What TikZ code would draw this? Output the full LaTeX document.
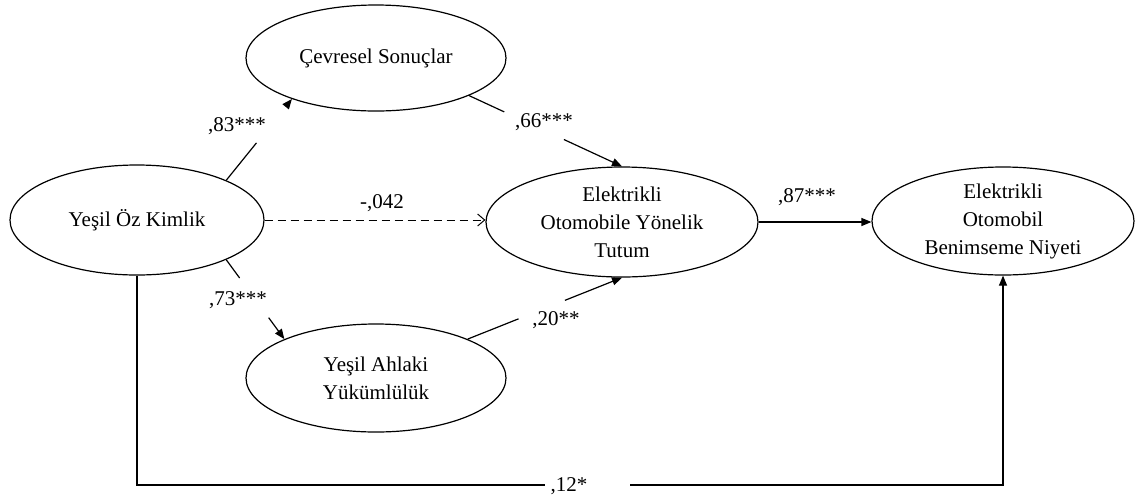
\documentclass[tikz,border=0pt]{standalone}
\usepackage{fontspec}
\setmainfont{Liberation Serif}
\usetikzlibrary{arrows.meta,calc,shapes.geometric}
\begin{document}
\begin{tikzpicture}[x=0.5pt,y=-0.5pt,
  every node/.style={font=\fontsize{10.5}{14}\selectfont},
  lat/.style={draw, ellipse, inner sep=0pt, align=center, line width=0.6pt},
  conn/.style={line width=0.6pt},
  arr/.style={conn, -{Triangle[length=5pt,width=4pt]}},
  dasharr/.style={line width=0.5pt, dash pattern=on 4pt off 2.5pt, -{Straight Barb[length=3.5pt,width=6pt]}},
  lab/.style={inner sep=1pt}]
\useasboundingbox (0,0) rectangle (1140,499);
% latent variables
\node[lat, minimum width=127pt, minimum height=55pt] (yok) at (137,220) {Yeşil Öz Kimlik};
\node[lat, minimum width=130pt, minimum height=53pt] (cs) at (376,58) {Çevresel Sonuçlar};
\node[lat, minimum width=136pt, minimum height=55pt] (eoyt) at (622,222) {Elektrikli\\Otomobile Yönelik\\Tutum};
\node[lat, minimum width=131pt, minimum height=54pt] (eobn) at (1003,221) {Elektrikli\\Otomobil\\Benimseme Niyeti};
\node[lat, minimum width=130pt, minimum height=54pt] (yay) at (376,378) {Yeşil Ahlaki\\Yükümlülük};
% Yeşil Öz Kimlik -> Çevresel Sonuçlar
\coordinate (a1) at ($(yok.24)!0.46!(cs.206)$);
\coordinate (a2) at ($(yok.24)!0.93!(cs.206)$);
\draw[conn] (yok.24) -- (a1);
\draw[arr] (a2) -- (cs.206);
\node[lab] (l83) at (237,126) {,83***};
% Çevresel Sonuçlar -> Tutum
\coordinate (b1) at ($(cs.-22)!0.23!(eoyt.north)$);
\coordinate (b2) at ($(cs.-22)!0.62!(eoyt.north)$);
\draw[conn] (cs.-22) -- (b1);
\draw[arr] (b2) -- (eoyt.north);
\node[lab] (l66) at (544,122) {,66***};
% Yeşil Öz Kimlik -> Tutum (dashed)
\draw[dasharr] (yok.east) -- (yok.east -| eoyt.west);
\node[lab] (l042) at (382,203) {-,042};
% Yeşil Öz Kimlik -> Yeşil Ahlaki Yükümlülük
\coordinate (c1) at ($(yok.-24)!0.23!(yay.157)$);
\coordinate (c2) at ($(yok.-24)!0.73!(yay.157)$);
\draw[conn] (yok.-24) -- (c1);
\draw[arr] (c2) -- (yay.157);
\node[lab] (l73) at (238,300) {,73***};
% Yeşil Ahlaki Yükümlülük -> Tutum
\coordinate (d1) at ($(yay.23)!0.33!(eoyt.south)$);
\coordinate (d2) at ($(yay.23)!0.63!(eoyt.south)$);
\draw[conn] (yay.23) -- (d1);
\draw[arr] (d2) -- (eoyt.south);
\node[lab] (l20) at (556,320) {,20**};
% Tutum -> Niyet
\draw[arr] (eoyt.east) -- (eoyt.east -| eobn.west);
\node[lab] (l87) at (807,197) {,87***};
% Yeşil Öz Kimlik -> Niyet
\coordinate (g1) at (545,485);
\coordinate (g2) at (630,485);
\draw[conn] (yok.south) |- (g1);
\draw[arr] (g2) -| (eobn.south);
\node[lab] (l12) at (569,486) {,12*};
\end{tikzpicture}
\end{document}
